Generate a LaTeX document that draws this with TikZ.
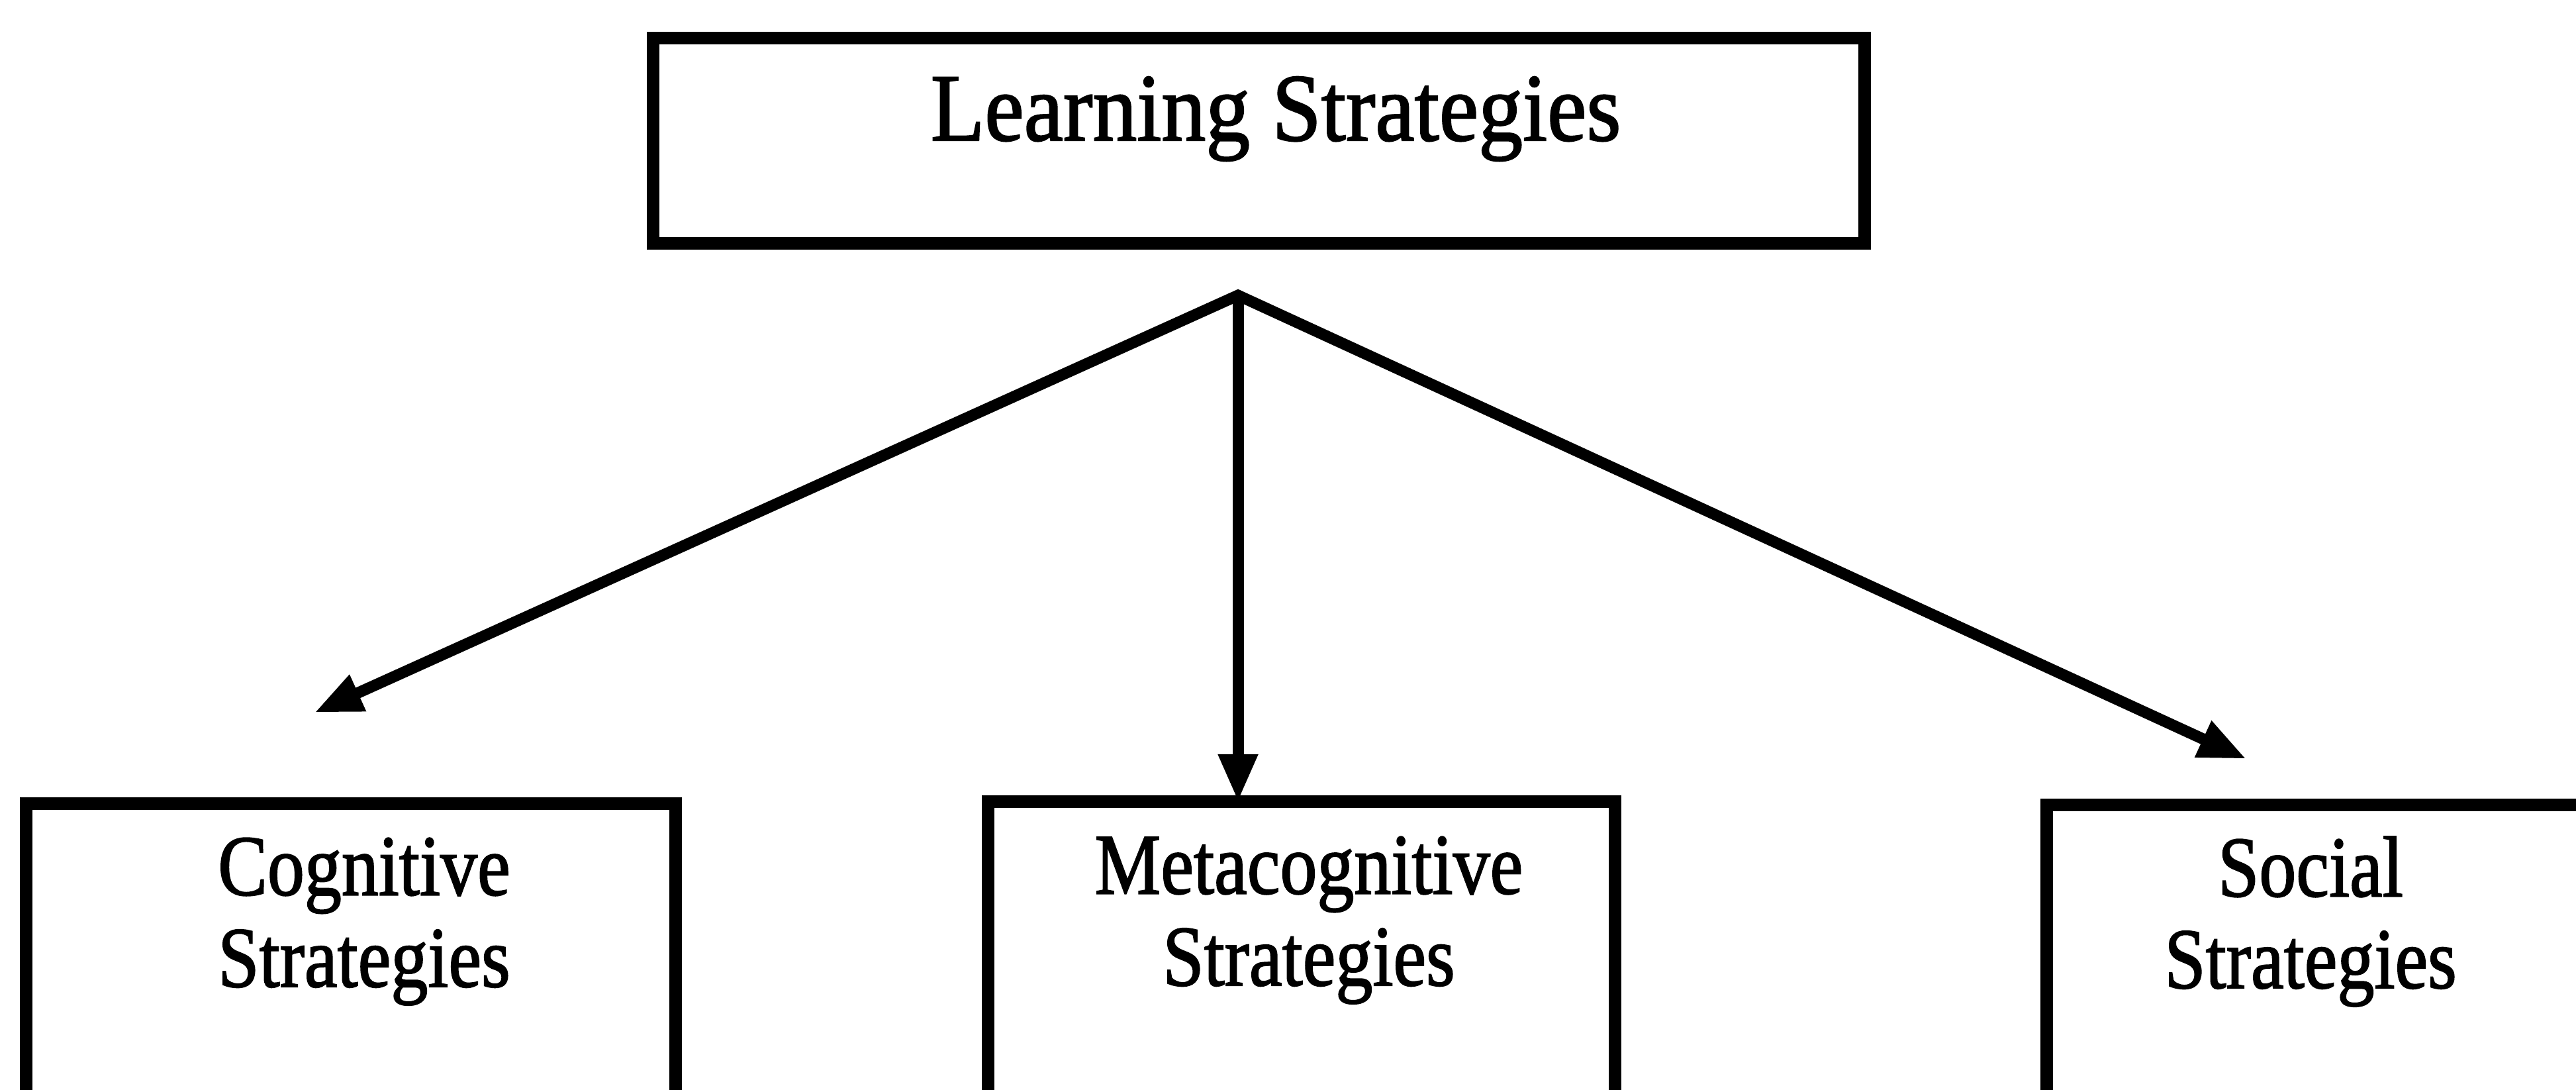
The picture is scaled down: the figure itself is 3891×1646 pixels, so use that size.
\documentclass[tikz,border=0pt]{standalone}
\usepackage{fontspec}
\usepackage{graphicx}
\setmainfont{Liberation Serif}
\newfontfamily\heavy{Liberation Serif}[UprightFeatures={FakeBold=1.6}]
\usetikzlibrary{arrows.meta}
\newcommand\sqzb[1]{\scalebox{0.86}[1]{#1}}
\newcommand\sqzt[1]{\scalebox{0.92}[1]{#1}}
\tikzset{
  frame/.style={draw=black, line width=0.19cm, fill=none, inner sep=0pt, outer sep=0pt},
  toptext/.style={inner sep=0pt, anchor=base, font=\heavy\fontsize{41.3}{44}\selectfont},
  subtext/.style={inner sep=0pt, anchor=base, align=center, font=\heavy\fontsize{37}{39.4}\selectfont},
  link/.style={line width=0.17cm, -{Triangle[length=0.72cm, width=0.56cm]}},
}
\begin{document}
\begin{tikzpicture}[x=0.01cm, y=-0.01cm]
\useasboundingbox (0,0) rectangle (3891,1646);
\fill[white] (0,0) rectangle (3891,1646);
% boxes
\node[frame, minimum width=18.29cm, minimum height=3.09cm] (top) at (1901.5,212.5) {};
\node[frame, minimum width=9.81cm, minimum height=5.86cm] (cog) at (530,1507) {};
\node[frame, minimum width=9.47cm, minimum height=5.89cm] (meta) at (1966,1505.5) {};
\node[frame, minimum width=10.09cm, minimum height=5.84cm] (soc) at (3596.5,1508) {};
% texts
\node[toptext] (toplabel) at (1927,212) {\sqzt{Learning Strategies}};
\node[subtext] (coglabel) at (550,1490) {\sqzb{Cognitive}\\\sqzb{Strategies}};
\node[subtext] (metalabel) at (1977,1488) {\sqzb{Metacognitive}\\\sqzb{Strategies}};
\node[subtext] (soclabel) at (3490,1492) {\sqzb{Social}\\\sqzb{Strategies}};
% connectors
\coordinate (apex) at (1870,446);
\coordinate (lt) at (475,1076);
\coordinate (rt) at (3393,1146);
\draw[line width=0.17cm, line join=miter, {Triangle[length=0.72cm, width=0.56cm]}-{Triangle[length=0.72cm, width=0.56cm]}] (lt) -- (apex) -- (rt);
\draw[link] (apex) -- (apex |- meta.north);
\end{tikzpicture}
\end{document}
